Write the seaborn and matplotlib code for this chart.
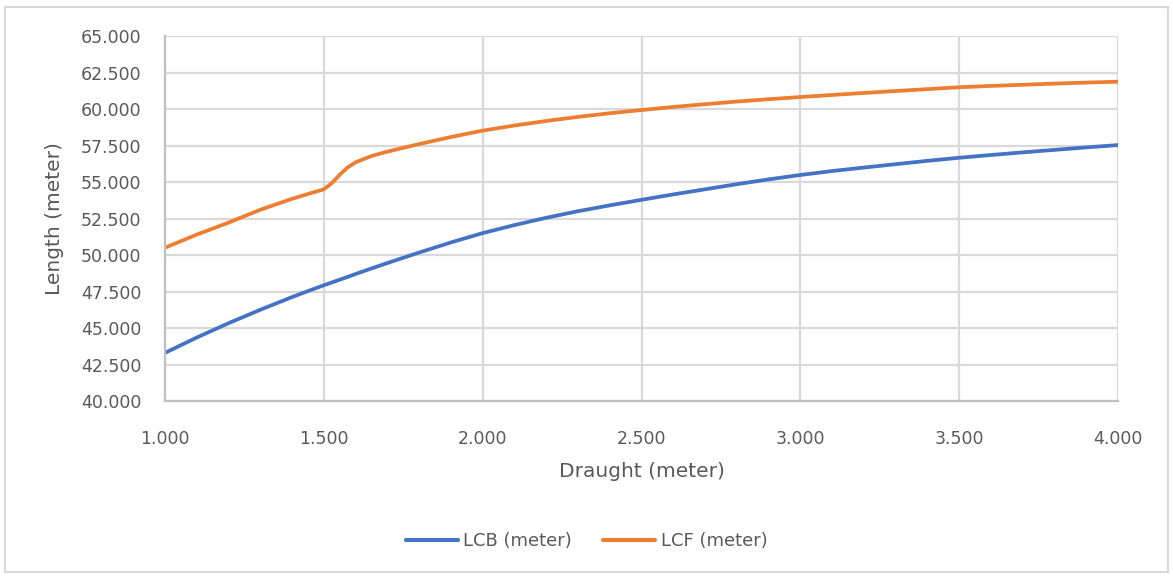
import matplotlib
matplotlib.use("Agg")
import matplotlib.pyplot as plt
from matplotlib.patches import Rectangle
from matplotlib.ticker import FormatStrFormatter, MultipleLocator
import pandas as pd
import seaborn as sns

# Draught stations (m) and longitudinal centres (m)
draught = [1.0, 1.1, 1.2, 1.3, 1.4, 1.45, 1.5, 1.525, 1.55, 1.575, 1.6, 1.65, 1.7, 1.8, 1.9, 2.0,
           2.1, 2.2, 2.3, 2.4, 2.5, 2.6, 2.7, 2.8, 2.9, 3.0,
           3.1, 3.2, 3.3, 3.4, 3.5, 3.6, 3.7, 3.8, 3.9, 4.0]
lcb = [43.30, 44.35, 45.33, 46.25, 47.12, 47.53, 47.93, 48.12, 48.31, 48.50, 48.70, 49.08, 49.45, 50.17, 50.86, 51.50,
       52.05, 52.55, 53.00, 53.40, 53.78, 54.15, 54.50, 54.85, 55.18, 55.48,
       55.75, 55.99, 56.22, 56.45, 56.66, 56.85, 57.03, 57.20, 57.37, 57.53]
lcf = [50.50, 51.40, 52.22, 53.10, 53.85, 54.18, 54.50, 54.92, 55.50, 56.00, 56.35, 56.78, 57.08, 57.60, 58.08, 58.52,
       58.87, 59.18, 59.46, 59.71, 59.93, 60.14, 60.33, 60.51, 60.67, 60.82,
       60.96, 61.10, 61.23, 61.36, 61.49, 61.58, 61.66, 61.74, 61.81, 61.87]
series_names = ["LCB (meter)", "LCF (meter)"]
x_label = "Draught (meter)"
y_label = "Length (meter)"

df = pd.DataFrame({
    "Draught": draught * 2,
    "Length": lcb + lcf,
    "Series": [series_names[0]] * len(draught) + [series_names[1]] * len(draught),
})

sns.set_theme(style="white")
plt.rcParams["font.family"] = ["DejaVu Sans"]

text_color = "#595959"
grid_color = "#d9d9d9"
colors = ["#4472C4", "#ED7D31"]

fig = plt.figure(figsize=(11.73, 5.76), dpi=100)
ax = fig.add_axes([0.1407, 0.3038, 0.9531 - 0.1407, 0.9375 - 0.3038])

sns.lineplot(data=df, x="Draught", y="Length", hue="Series",
             palette=colors, linewidth=2.7, ax=ax,
             legend=False, sort=True)
for line in ax.get_lines():
    line.set_solid_joinstyle("round")
    line.set_solid_capstyle("round")

ax.set_xlim(1.0, 4.0)
ax.set_ylim(40.0, 65.0)
ax.xaxis.set_major_locator(MultipleLocator(0.5))
ax.yaxis.set_major_locator(MultipleLocator(2.5))
ax.xaxis.set_major_formatter(FormatStrFormatter("%.3f"))
ax.yaxis.set_major_formatter(FormatStrFormatter("%.3f"))

ax.grid(True, color=grid_color, linewidth=1.6)
ax.set_axisbelow(True)
for side in ["top", "right"]:
    ax.spines[side].set_visible(False)
for side in ["left", "bottom"]:
    ax.spines[side].set_color("#bfbfbf")
    ax.spines[side].set_linewidth(1.6)

ax.tick_params(axis="both", length=0, labelsize=12.5, labelcolor=text_color)
ax.tick_params(axis="x", pad=21)
ax.tick_params(axis="y", pad=17)

ax.set_xlabel(x_label, fontsize=14.5, color=text_color, labelpad=10)
ax.set_ylabel(y_label, fontsize=14.5, color=text_color, labelpad=12)

handles = [plt.Line2D([], [], color=c, linewidth=3) for c in colors]
fig.legend(handles, series_names, loc="center", bbox_to_anchor=(0.5, 1 - 541 / 576),
           ncol=2, frameon=False, fontsize=13, labelcolor=text_color,
           handlelength=2.9, handletextpad=0.3, columnspacing=1.7)

# Chart area border
fig.patches.append(Rectangle((5 / 1173, 4 / 576), 1 - 10 / 1173, 1 - 11 / 576,
                             transform=fig.transFigure, fill=False,
                             edgecolor="#d9d9d9", linewidth=1.5))

fig.savefig("out.png", dpi=100, facecolor="white")
